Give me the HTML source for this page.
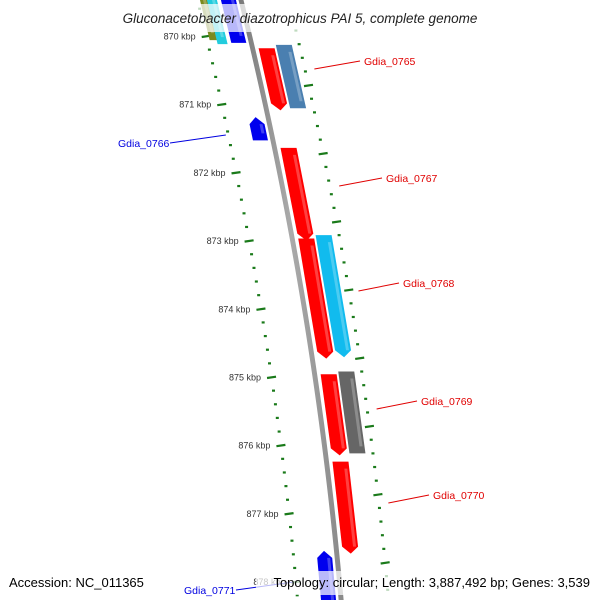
<!DOCTYPE html>
<html><head><meta charset="utf-8"><style>
html,body{margin:0;padding:0;background:#fff;}
svg{display:block;font-family:"Liberation Sans","DejaVu Sans",sans-serif;}
</style></head><body>
<svg id="map" width="600" height="600" viewBox="0 0 600 600" xmlns="http://www.w3.org/2000/svg">
<defs>
<linearGradient id="gback" x1="0" x2="1" y1="0" y2="0"><stop offset="0" stop-color="#777"/><stop offset="0.5" stop-color="#aaa"/><stop offset="1" stop-color="#888"/></linearGradient>
</defs>
<rect x="0" y="0" width="600" height="600" fill="#fff"/>
<g id="ticks"></g>
<g id="genes"></g>
<g id="labels"></g>
<rect x="92" y="4" width="416" height="28" fill="#fff" opacity="0.72"/>
<text x="300" y="23" text-anchor="middle" font-size="13.5" font-style="italic" fill="#222">Gluconacetobacter diazotrophicus PAI 5, complete genome</text>
<rect x="4" y="571" width="148" height="24" fill="#fff" opacity="0.72"/>
<rect x="256" y="571" width="340" height="24" fill="#fff" opacity="0.72"/>
<text x="9" y="587" font-size="13" fill="#000">Accession: NC_011365</text>
<text x="590" y="587" text-anchor="end" font-size="13" fill="#000">Topology: circular; Length: 3,887,492 bp; Genes: 3,539</text>
</svg>
<script>
// data (kbp positions)
const majorTicksInner = [870,871,872,873,874,875,876,877,878];
const majorTicksOuter = [870.72,871.72,872.72,873.72,874.72,875.72,876.72,877.72];
const geneNames  = ["Gdia_top1","Gdia_top2","Gdia_top3","Gdia_0765","Gdia_0765b","Gdia_0766","Gdia_0767","Gdia_0768","Gdia_0768b","Gdia_0769","Gdia_0769b","Gdia_0770","Gdia_0771"];
const geneStart  = [869.3,869.3,869.3,870.18,870.13,871.19,871.64,872.97,872.92,874.96,874.92,876.24,877.55];
const geneEnd    = [870.06,870.12,870.1,871.09,871.06,871.53,873.0,874.73,874.71,876.15,876.12,877.59,878.5];
const geneTrack  = ["L3","L2","L1","R1","R2","L1","R1","R1","R2","R1","R2","R1","L1"];
const geneColor  = ["#7a8a1e","#22ccdd","#0000ee","#ff0000","#4a7fb0","#0000ee","#ff0000","#ff0000","#11bbee","#ff0000","#666666","#ff0000","#0000ee"];
const geneArrow  = [0,0,0,1,0,-1,1,1,1,1,0,1,-1];
const labelNames = ["Gdia_0765","Gdia_0766","Gdia_0767","Gdia_0768","Gdia_0769","Gdia_0770","Gdia_0771"];
const labelGene  = [3,5,6,7,9,11,12];
const labelX     = [364,118,386,403,421,433,184];
const labelY     = [65,147,182,287,405,499,594];
const labelColor = ["#e00000","#0000e0","#e00000","#e00000","#e00000","#e00000","#0000e0"];

const NS="http://www.w3.org/2000/svg";
function yOf(k){return 36+(k-870)*68.2;}
function xb(y){return 240+0.2463*y-0.0001324*y*y;}
const tracks={L3:[-40,-32],L2:[-33,-23],L1:[-19,-4],R1:[7,23],R2:[25,41]};
function mk(tag,attrs,parent){const e=document.createElementNS(NS,tag);for(const k in attrs)e.setAttribute(k,attrs[k]);parent.appendChild(e);return e;}
const tg=document.getElementById('ticks'),gg=document.getElementById('genes'),lg=document.getElementById('labels');

// backbone
let pts=[];for(let y=-5;y<=605;y+=10)pts.push((xb(y)-1.5)+","+y);
for(let y=605;y>=-5;y-=10)pts.push((xb(y)+3.5)+","+y);
const bb=mk('polygon',{points:pts.join(' '),fill:'url(#gback)'},gg);



// ticks
function tickSeries(majors,o1,o2,m1,m2,labels){
  for(let i=0;i<majors.length;i++){
    const y=yOf(majors[i]);
    const t=mk('line',{x1:xb(y)+o1,y1:y+1,x2:xb(y)+o2,y2:y-0.3,stroke:'#1a7a1a','stroke-width':2.2},tg);
    
    
    if(labels){
      const tx=mk('text',{x:xb(y)+o1-6,y:y+3.5,'text-anchor':'end','font-size':9,fill:'#333'},tg);
      tx.textContent=majors[i]+" kbp";
      
      
    }
    for(let j=1;j<5;j++){
      const yy=y+j*68.2/5;
      if(yy>605)break;
      const d=mk('line',{x1:xb(yy)+m1,y1:yy,x2:xb(yy)+m2,y2:yy,stroke:'#1a7a1a','stroke-width':2.2},tg);
      
      
    }
  }
  const y0=yOf(majors[0]);
  for(let j=1;j<5;j++){const yy=y0-j*68.2/5;if(yy<-5)break;
    const d=mk('line',{x1:xb(yy)+m1,y1:yy,x2:xb(yy)+m2,y2:yy,stroke:'#1a7a1a','stroke-width':2.2},tg);
    
    }
}
tickSeries(majorTicksInner,-47,-38,-44,-41,true);
tickSeries(majorTicksOuter,44,53,47,50,false);

// genes
for(let i=0;i<geneNames.length;i++){
  const [o1,o2]=tracks[geneTrack[i]];
  const y0=yOf(geneStart[i]),y1=yOf(geneEnd[i]);
  const a=7,mid=(o1+o2)/2;
  let p=[];
  if(geneArrow[i]===-1){
    p.push([xb(y0+a)+o1,y0+a],[xb(y0)+mid,y0],[xb(y0+a)+o2,y0+a]);
  } else p.push([xb(y0)+o1,y0],[xb(y0)+o2,y0]);
  if(geneArrow[i]===1){
    p.push([xb(y1-a)+o2,y1-a],[xb(y1)+mid,y1],[xb(y1-a)+o1,y1-a]);
  } else p.push([xb(y1)+o2,y1],[xb(y1)+o1,y1]);
  const g=mk('polygon',{points:p.map(q=>q.join(',')).join(' '),fill:geneColor[i]},gg);
  
  
  // highlight strip
  const h=mk('polygon',{points:[[xb(y0+a)+o2-5,y0+a],[xb(y0+a)+o2-2,y0+a],[xb(y1-a)+o2-2,y1-a],[xb(y1-a)+o2-5,y1-a]].map(q=>q.join(',')).join(' '),fill:'#fff',opacity:0.25},gg);
  
  
}

// labels
for(let i=0;i<labelNames.length;i++){
  const gi=labelGene[i];const [o1,o2]=tracks[geneTrack[gi]];
  const left=labelX[i]<300;
  const ly=labelY[i]-4;
  const gy=left?ly-8:ly+8;
  const gx=left?xb(gy)-45:xb(gy)+(geneTrack[gi]==='R1'?58:58);
  const lx=left?labelX[i]+52:labelX[i]-4;
  const ln=mk('line',{x1:gx,y1:gy,x2:lx,y2:ly,stroke:labelColor[i],'stroke-width':1},lg);
  
  
  const t=mk('text',{x:labelX[i],y:labelY[i],'font-size':10.5,fill:labelColor[i]},lg);
  t.textContent=labelNames[i];
  
  
}
</script>
</body></html>
